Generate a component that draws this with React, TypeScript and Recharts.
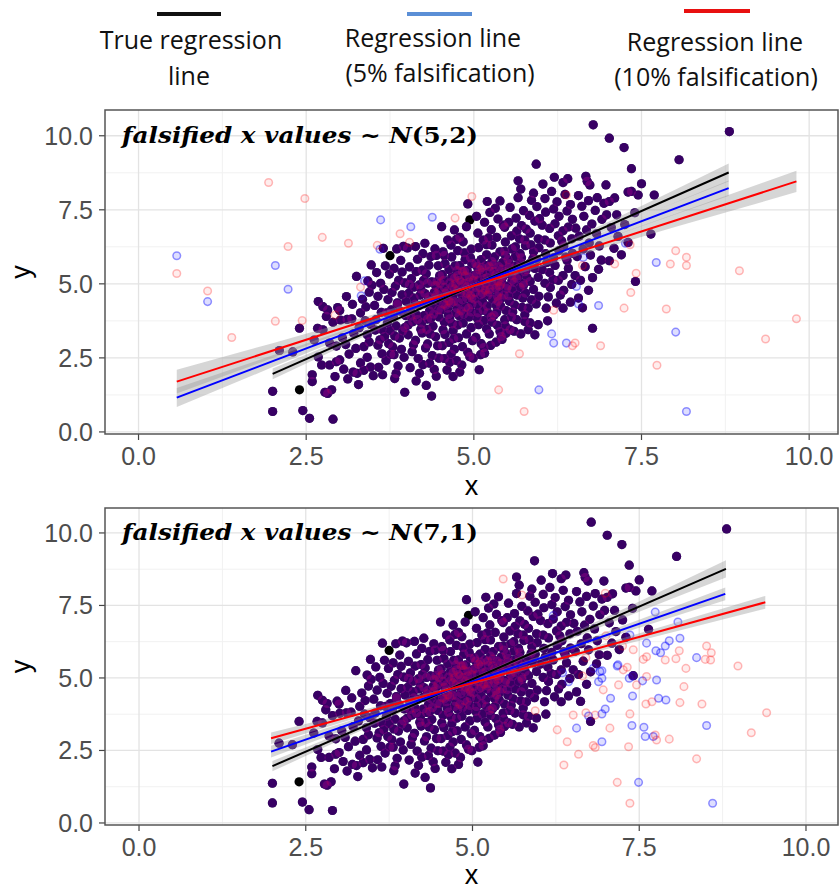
import React from 'react';
import { ComposedChart, Scatter, Line, Area, XAxis, YAxis, CartesianGrid, ReferenceArea } from 'recharts';

// ---------- axes ----------
const xTicks = [0, 2.5, 5, 7.5, 10];
const yTicks = [0, 2.5, 5, 7.5, 10];
const xMinor = [1.25, 3.75, 6.25, 8.75];
const yMinor = [1.25, 3.75, 6.25, 8.75];
const p1XDomain: [number, number] = [-0.5, 10.43];
const p2XDomain: [number, number] = [-0.51, 10.48];
const p1YDomain: [number, number] = [-0.07, 10.87];
const p2YDomain: [number, number] = [-0.07, 10.86];

// ---------- true (unfalsified) observations, shared by both panels ----------
const truePoints: [number, number][] = [
  [2.0, 0.69], [2.0, 1.37], [2.1, 2.75], [2.45, 0.72], [2.3, 2.7], [2.4, 3.5],
  [2.55, 0.46], [2.59, 1.7], [2.59, 1.93], [2.9, 0.43], [2.78, 1.34], [2.88, 1.42], [2.67, 3.5], [2.75, 3.45],
  [2.68, 4.4], [2.75, 4.23], [2.82, 4.12], [2.97, 4.2], [2.73, 2.26], [2.85, 2.26], [2.95, 2.37], [2.68, 2.53],
  [2.82, 1.3], [2.93, 1.87], [2.62, 3.1], [2.85, 3.0], [2.95, 2.9], [2.8, 3.9], [2.9, 3.7],
  [3.0, 4.1], [3.1, 4.57], [3.01, 3.78], [3.11, 3.8], [3.18, 3.82], [3.25, 5.25], [3.47, 5.64], [3.0, 2.43],
  [3.12, 1.79], [3.2, 2.02], [3.06, 2.12], [3.26, 1.98], [3.31, 2.33], [3.36, 2.08], [3.41, 2.52], [3.46, 2.19],
  [3.14, 2.63], [3.24, 2.82], [3.36, 2.88], [3.44, 3.04], [3.04, 3.18], [3.21, 3.32], [3.29, 3.52], [3.41, 3.28],
  [3.46, 3.63], [3.31, 4.02], [3.39, 4.22], [3.44, 4.72], [3.34, 4.48], [3.19, 4.31], [3.5, 1.9], [3.09, 2.95],
  [3.38, 3.75], [3.48, 4.95], [3.42, 5.1], [3.28, 1.6],
  [3.52, 4.27], [3.57, 2.93], [3.61, 5.02], [3.63, 3.46], [3.66, 4.81], [3.69, 2.41], [3.71, 3.68], [3.74, 5.33],
  [3.77, 4.12], [3.79, 2.87], [3.81, 5.52], [3.84, 3.58], [3.86, 4.36], [3.89, 3.17], [3.91, 5.79], [3.93, 4.63],
  [3.96, 2.52], [3.98, 3.93], [3.54, 3.79], [3.58, 2.18], [3.62, 4.04], [3.64, 1.93], [3.67, 3.22], [3.72, 4.47],
  [3.76, 2.62], [3.8, 3.89], [3.83, 4.92], [3.87, 2.23], [3.9, 4.08], [3.94, 3.41], [3.97, 5.03], [3.55, 5.38],
  [3.6, 3.11], [3.68, 5.61], [3.73, 2.98], [3.78, 4.71], [3.82, 3.24], [3.88, 5.12], [3.92, 2.79], [3.95, 6.27],
  [3.85, 6.18], [3.57, 4.58], [3.7, 4.02], [3.75, 3.42], [3.84, 1.97], [3.99, 4.41], [3.63, 2.64], [3.86, 4.31],
  [3.93, 5.4], [3.53, 3.44], [3.81, 2.61], [3.97, 3.52], [3.65, 6.2], [3.82, 1.8], [3.97, 1.34],
  [4.01, 6.21], [4.13, 6.26], [4.27, 6.37], [4.42, 6.18], [4.04, 5.57], [4.16, 5.83], [4.23, 5.46], [4.36, 5.92],
  [4.47, 5.61], [4.07, 5.18], [4.19, 4.97], [4.29, 5.34], [4.37, 5.07], [4.49, 5.27], [4.03, 4.68], [4.11, 4.52],
  [4.21, 4.83], [4.33, 4.57], [4.43, 4.94], [4.06, 4.17], [4.14, 3.96], [4.26, 4.33], [4.34, 4.08], [4.46, 4.42],
  [4.09, 3.72], [4.21, 3.47], [4.31, 3.81], [4.39, 3.57], [4.48, 3.88], [4.02, 3.28], [4.13, 3.09], [4.23, 3.34],
  [4.31, 2.97], [4.43, 3.21], [4.08, 2.71], [4.17, 2.48], [4.28, 2.83], [4.38, 2.58], [4.46, 2.91], [4.05, 2.17],
  [4.19, 1.98], [4.34, 2.32], [4.44, 1.88], [4.37, 1.21], [4.14, 1.72], [4.29, 1.57], [4.11, 4.89], [4.2, 4.62],
  [4.31, 5.02], [4.41, 4.71], [4.06, 3.91], [4.16, 3.79], [4.26, 3.93], [4.36, 3.84], [4.47, 4.12], [4.14, 5.41],
  [4.33, 5.63], [4.24, 6.02], [4.44, 5.96], [4.04, 4.98], [4.24, 2.27], [4.41, 2.11], [4.48, 2.49], [4.1, 2.94],
  [4.3, 3.46], [4.42, 4.53], [4.02, 3.61], [4.18, 4.27], [4.27, 4.67], [4.38, 4.28], [4.45, 5.08], [4.22, 3.68],
  [4.35, 3.31], [4.12, 4.31], [4.4, 3.98], [4.32, 4.45], [4.25, 5.12],
  [4.52, 6.93], [4.91, 7.7], [4.69, 1.87], [4.61, 6.48], [4.71, 6.82], [4.79, 6.57], [4.89, 6.93], [4.54, 6.08],
  [4.66, 6.31], [4.76, 6.12], [4.84, 6.42], [4.96, 6.17], [4.57, 5.68], [4.67, 5.91], [4.79, 5.62], [4.87, 5.82],
  [4.97, 5.68], [4.53, 5.31], [4.63, 5.48], [4.71, 5.19], [4.83, 5.42], [4.93, 5.23], [4.56, 4.88], [4.64, 5.03],
  [4.76, 4.79], [4.86, 5.01], [4.94, 4.82], [4.59, 4.52], [4.69, 4.61], [4.77, 4.38], [4.89, 4.53], [4.97, 4.31],
  [4.51, 4.12], [4.61, 4.18], [4.73, 4.02], [4.81, 4.09], [4.93, 3.88], [4.56, 3.71], [4.64, 3.82], [4.76, 3.61],
  [4.84, 3.68], [4.96, 3.52], [4.57, 3.29], [4.69, 3.42], [4.77, 3.18], [4.89, 3.31], [4.98, 3.08], [4.53, 2.91],
  [4.63, 3.02], [4.71, 2.79], [4.83, 2.88], [4.91, 2.69], [4.56, 2.48], [4.66, 2.62], [4.74, 2.41], [4.82, 2.26],
  [4.94, 2.54], [4.6, 2.09], [4.79, 2.02], [4.99, 2.49], [4.56, 5.95], [4.66, 4.35], [4.76, 5.28], [4.86, 6.05],
  [4.96, 4.05], [4.6, 4.75], [4.7, 3.15], [4.8, 4.7], [4.9, 5.45], [4.54, 3.45], [4.74, 6.5], [4.64, 2.35],
  [4.58, 4.28], [4.68, 4.92], [4.72, 5.61], [4.83, 4.46], [4.87, 5.27], [4.95, 4.61], [4.62, 3.96], [4.78, 3.92],
  [4.92, 4.18], [4.99, 5.12], [4.7, 4.4], [4.85, 3.98], [4.55, 5.12], [4.81, 5.06], [4.9, 4.9], [4.75, 5.45],
  [4.68, 3.65], [4.95, 5.88],
  [5.08, 2.1], [5.16, 2.66], [5.33, 3.03], [5.2, 7.78], [5.39, 7.8], [5.04, 7.28], [5.16, 7.08], [5.24, 7.41],
  [5.36, 7.19], [5.44, 6.98], [5.06, 6.71], [5.14, 6.48], [5.26, 6.83], [5.34, 6.57], [5.46, 6.91], [5.07, 6.22],
  [5.19, 5.98], [5.27, 6.31], [5.39, 6.08], [5.47, 6.41], [5.03, 5.69], [5.11, 5.82], [5.23, 5.58], [5.31, 5.91],
  [5.43, 5.72], [5.04, 5.32], [5.16, 5.18], [5.24, 5.43], [5.36, 5.09], [5.44, 5.28], [5.09, 4.88], [5.17, 4.79],
  [5.29, 4.96], [5.37, 4.71], [5.49, 4.84], [5.01, 4.48], [5.13, 4.39], [5.21, 4.62], [5.33, 4.29], [5.41, 4.52],
  [5.06, 4.02], [5.14, 4.11], [5.26, 3.88], [5.34, 4.03], [5.46, 3.79], [5.07, 3.62], [5.19, 3.48], [5.27, 3.71],
  [5.39, 3.39], [5.47, 3.58], [5.03, 3.19], [5.11, 2.98], [5.23, 3.31], [5.42, 3.12], [5.1, 2.61], [5.25, 2.92],
  [5.41, 3.22], [5.48, 3.33], [5.12, 5.55], [5.3, 5.65], [5.46, 6.1], [5.2, 4.25], [5.4, 4.25], [5.05, 3.85],
  [5.35, 3.6], [5.22, 6.55], [5.42, 5.5], [5.15, 2.85], [5.32, 7.55], [5.48, 4.1], [5.02, 4.71], [5.18, 5.02],
  [5.28, 4.48], [5.38, 4.92], [5.45, 4.62], [5.09, 5.47], [5.21, 4.02], [5.33, 5.31], [5.13, 4.68], [5.27, 5.75],
  [5.06, 4.28], [5.41, 5.08], [5.24, 4.81], [5.15, 3.76], [5.36, 4.41], [5.19, 6.32], [5.3, 3.94], [5.47, 5.96],
  [5.66, 8.48], [5.93, 9.04], [5.54, 7.58], [5.66, 7.91], [5.74, 7.47], [5.86, 7.82], [5.94, 7.61], [5.52, 7.08],
  [5.63, 7.22], [5.71, 6.97], [5.83, 7.31], [5.91, 7.12], [5.56, 6.62], [5.64, 6.78], [5.76, 6.48], [5.84, 6.71],
  [5.96, 6.52], [5.57, 6.18], [5.69, 6.02], [5.77, 6.29], [5.89, 6.08], [5.97, 6.22], [5.51, 5.82], [5.63, 5.61],
  [5.71, 5.88], [5.83, 5.68], [5.91, 5.52], [5.56, 5.28], [5.64, 5.19], [5.76, 5.41], [5.84, 5.08], [5.96, 5.22],
  [5.57, 4.82], [5.69, 4.88], [5.77, 4.69], [5.89, 4.81], [5.97, 4.58], [5.53, 4.41], [5.61, 4.28], [5.73, 4.52],
  [5.81, 4.18], [5.93, 4.32], [5.56, 3.88], [5.64, 3.79], [5.76, 3.96], [5.84, 3.68], [5.96, 3.62], [5.6, 3.4],
  [5.7, 3.31], [5.81, 3.45], [5.91, 3.28], [5.54, 3.45], [5.76, 3.73], [5.89, 8.06], [5.7, 8.2], [5.58, 4.05],
  [5.78, 6.85], [5.88, 5.85], [5.68, 5.55], [5.98, 7.2], [5.6, 5.05], [5.72, 4.21], [5.86, 4.46], [5.62, 5.92],
  [5.79, 5.22], [5.94, 5.82], [5.53, 5.55], [5.68, 6.52], [5.85, 6.32], [5.74, 4.95],
  [6.03, 8.37], [6.33, 8.42], [6.08, 4.18], [6.33, 4.18], [6.06, 7.88], [6.16, 8.12], [6.24, 7.77], [6.36, 8.02],
  [6.44, 7.68], [6.07, 7.42], [6.19, 7.53], [6.27, 7.28], [6.39, 7.46], [6.47, 7.18], [6.02, 6.98], [6.13, 6.87],
  [6.21, 7.03], [6.33, 6.79], [6.41, 6.92], [6.06, 6.48], [6.14, 6.38], [6.26, 6.62], [6.34, 6.28], [6.46, 6.52],
  [6.07, 6.02], [6.19, 5.88], [6.27, 6.12], [6.39, 5.79], [6.47, 6.03], [6.02, 5.48], [6.13, 5.38], [6.21, 5.62],
  [6.33, 5.28], [6.41, 5.52], [6.06, 5.02], [6.14, 4.88], [6.26, 5.12], [6.34, 4.78], [6.46, 4.98], [6.11, 4.56],
  [6.29, 4.62], [6.44, 4.38], [6.2, 8.6], [6.4, 8.55], [6.1, 3.75], [6.23, 4.35], [6.18, 5.15], [6.37, 5.9],
  [6.09, 5.72], [6.31, 6.45],
  [6.67, 8.63], [6.69, 8.46], [6.73, 8.34], [6.97, 8.34], [6.98, 7.33], [6.77, 5.21], [6.77, 3.5], [6.9, 5.8],
  [6.78, 10.37], [6.56, 7.98], [6.61, 7.62], [6.64, 7.28], [6.71, 7.81], [6.76, 7.02], [6.81, 7.48], [6.84, 7.91],
  [6.91, 7.18], [6.94, 7.72], [6.52, 6.88], [6.57, 6.61], [6.63, 6.18], [6.68, 6.82], [6.72, 6.38], [6.83, 6.69],
  [6.87, 6.28], [6.54, 5.92], [6.66, 5.58], [6.74, 5.97], [6.86, 5.49], [6.51, 5.28], [6.59, 5.12], [6.71, 4.78],
  [6.56, 4.52], [6.62, 4.19],
  [7.02, 9.92], [7.24, 9.6], [7.35, 8.89], [7.35, 8.12], [7.45, 8.0], [7.3, 8.1], [7.1, 7.9], [7.02, 7.78],
  [7.13, 7.33], [7.09, 6.2], [7.2, 5.98], [7.02, 5.78], [7.41, 5.08], [7.05, 6.9], [7.15, 6.6], [7.25, 7.0],
  [7.3, 6.4], [7.4, 7.4],
  [7.5, 8.38], [7.69, 8.0], [7.64, 6.68], [8.06, 9.19], [8.81, 10.14],
  // dense core along the diagonal
  [4.45, 4.65], [4.5, 5.02], [4.58, 4.68], [4.63, 4.42], [4.67, 5.22], [4.71, 4.83], [4.75, 4.18], [4.79, 5.12],
  [4.83, 4.78], [4.86, 5.43], [4.9, 4.68], [4.93, 5.06], [4.97, 4.52], [5.0, 5.28], [5.03, 4.88], [5.07, 5.12],
  [5.1, 4.63], [5.13, 5.38], [5.16, 4.95], [5.2, 5.21], [5.23, 4.72], [5.27, 5.08], [5.3, 5.42], [5.33, 4.86],
  [5.37, 5.58], [5.4, 4.98], [5.43, 5.23], [5.47, 5.41], [5.5, 4.92], [5.53, 5.68], [5.57, 5.12], [5.6, 5.42],
  [5.64, 4.62], [5.67, 5.28], [5.7, 5.72], [5.74, 5.02], [5.78, 5.48], [4.55, 4.32], [4.88, 4.22], [5.18, 5.62],
  [5.35, 4.58], [5.05, 5.58], [4.73, 5.0], [5.52, 4.6], [5.62, 6.25], [4.48, 4.78],
];
// true observations whose copies were falsified in both contaminated data sets (drawn pure black)
const blackOnlyPoints: [number, number][] = [[2.4, 1.42], [3.75, 5.95], [4.94, 7.16]];

// ---------- falsified observations, panel 1: x ~ N(5,2) ----------
const p1Blue: [number, number][] = [
  [0.57, 5.95], [1.03, 4.4], [2.04, 5.62], [2.23, 4.82], [3.61, 7.16], [4.06, 6.93], [4.38, 7.25], [3.32, 4.6],
  [3.37, 5.1], [3.6, 6.17], [7.26, 6.37], [7.72, 5.72], [6.56, 4.32], [6.86, 4.27], [6.16, 3.31], [6.19, 3.0],
  [6.38, 3.0], [8.01, 3.37], [5.97, 1.42], [8.17, 0.69], [6.63, 5.89], [6.53, 4.91],
];
const p1Pink: [number, number][] = [
  [0.57, 5.35], [1.03, 4.76], [1.39, 3.19], [1.94, 8.42], [2.48, 7.88], [2.23, 6.26], [2.74, 6.57], [2.04, 3.74],
  [2.44, 3.76], [3.13, 6.37], [3.56, 6.3], [2.93, 3.95], [3.31, 4.89], [3.9, 6.69], [4.04, 6.4], [4.97, 7.95],
  [4.72, 7.22], [6.38, 8.0], [7.33, 6.32], [8.01, 6.12], [8.17, 5.9], [8.17, 5.62], [7.93, 5.67], [8.96, 5.44],
  [7.42, 5.36], [7.34, 4.71], [7.24, 4.18], [7.87, 4.15], [6.19, 4.11], [9.81, 3.82], [9.35, 3.14], [6.51, 3.0],
  [6.89, 2.91], [5.68, 2.64], [7.73, 2.25], [5.37, 1.42], [5.75, 0.69], [7.1, 5.67], [6.62, 5.62], [6.47, 2.91],
];

// ---------- falsified observations, panel 2: x ~ N(7,1) ----------
const p2Blue: [number, number][] = [
  [7.74, 7.27], [8.08, 6.93], [7.36, 6.48], [7.61, 6.2], [7.75, 5.94], [7.82, 5.87], [7.89, 6.1], [7.95, 6.28],
  [8.11, 6.37], [8.36, 5.7], [7.17, 5.41], [6.94, 5.25], [6.94, 4.99], [6.89, 4.87], [6.81, 5.33], [7.35, 4.99],
  [7.4, 5.07], [7.55, 4.9], [7.76, 4.93], [7.4, 4.38], [7.07, 4.3], [7.79, 4.3], [7.9, 4.24], [6.99, 3.93],
  [6.94, 3.76], [6.74, 3.69], [6.56, 3.27], [7.39, 3.36], [7.57, 3.3], [7.59, 2.98], [7.71, 2.98], [8.51, 3.36],
  [6.94, 2.8], [7.49, 1.4], [8.6, 0.68], [6.35, 5.18], [6.44, 4.87], [6.91, 5.22], [6.21, 7.15], [7.18, 5.45],
];
const p2Pink: [number, number][] = [
  [6.99, 7.92], [7.41, 5.97], [7.56, 5.64], [7.61, 5.73], [7.89, 5.62], [8.05, 5.66], [8.1, 5.94], [8.51, 6.1],
  [8.58, 5.87], [8.49, 5.64], [8.57, 5.62], [8.98, 5.41], [8.2, 5.33], [7.32, 5.37], [7.26, 5.28], [6.65, 5.07],
  [7.61, 5.05], [7.46, 4.76], [7.19, 4.76], [8.17, 4.7], [6.96, 4.59], [7.6, 4.1], [7.69, 4.18], [8.11, 4.15],
  [8.44, 4.1], [7.36, 3.76], [6.51, 3.72], [6.84, 3.72], [6.27, 3.21], [7.06, 3.27], [7.74, 3.03], [7.76, 2.86],
  [7.95, 2.89], [6.42, 2.8], [6.81, 2.67], [6.84, 2.6], [7.34, 2.63], [6.59, 2.37], [6.37, 2.0], [8.36, 2.21],
  [7.17, 1.4], [7.36, 0.68], [9.18, 3.11], [9.41, 3.8], [5.46, 8.41], [5.74, 7.86], [5.94, 3.87], [6.7, 3.8],
  [7.0, 6.45], [7.25, 6.1], [6.7, 5.7],
];

// ---------- fitted regression lines (end points) ----------
const trueLine: [number, number][] = [[2.0, 1.96], [8.8, 8.76]];
const p1BlueLine: [number, number][] = [[0.57, 1.16], [8.8, 8.23]];
const p1RedLine: [number, number][] = [[0.57, 1.7], [9.81, 8.46]];
const p2BlueLine: [number, number][] = [[1.98, 2.46], [8.79, 7.9]];
const p2RedLine: [number, number][] = [[1.98, 2.92], [9.39, 7.61]];

// ---------- confidence band half-widths ----------
const trueBandX = [2.0, 3.0, 4.0, 5.0, 6.0, 7.0, 8.0, 8.8];
const trueBandHW = [0.18, 0.12, 0.07, 0.05, 0.07, 0.13, 0.22, 0.3];
const p1BlueBandX = [0.57, 2.0, 3.5, 5.0, 6.5, 8.0, 8.8];
const p1BlueBandHW = [0.32, 0.2, 0.1, 0.05, 0.1, 0.2, 0.26];
const p1RedBandX = [0.57, 2.0, 3.5, 5.0, 6.5, 8.0, 9.81];
const p1RedBandHW = [0.4, 0.25, 0.12, 0.06, 0.12, 0.22, 0.36];
const p2BlueBandX = [1.98, 3.5, 5.0, 6.5, 8.0, 8.79];
const p2BlueBandHW = [0.2, 0.1, 0.05, 0.08, 0.17, 0.22];
const p2RedBandX = [1.98, 3.5, 5.0, 6.5, 8.0, 9.39];
const p2RedBandHW = [0.2, 0.1, 0.05, 0.08, 0.15, 0.22];

const toObj = (pts: [number, number][]) => pts.map(([x, y]) => ({ x, y }));
const lineAt = (line: [number, number][], x: number) => {
  const [[x0, y0], [x1, y1]] = line;
  return y0 + ((y1 - y0) * (x - x0)) / (x1 - x0);
};
const makeBand = (line: [number, number][], xs: number[], hw: number[]) =>
  xs.map((x, i) => {
    const y = lineAt(line, x);
    return { x, band: [y - hw[i], y + hw[i]] };
  });

const fmt = (v: number) => v.toFixed(1);
const tickFont = '"Liberation Sans", Arial, sans-serif';

const dot = (r: number, fill: string, stroke = 'none', sw = 0) => (p: any) => (
  <circle cx={p.cx} cy={p.cy} r={r} fill={fill} stroke={stroke} strokeWidth={sw} />
);

const darkBlack = dot(4.6, '#000000');
const darkBlue = dot(4.6, 'rgba(0,0,255,0.5)');
const darkRed = dot(4.6, 'rgba(255,0,0,0.22)');
const ringBlue = dot(3.8, 'rgba(0,0,255,0.13)', 'rgba(0,0,255,0.42)', 1.5);
const ringPink = dot(3.8, 'rgba(255,0,0,0.07)', 'rgba(255,0,0,0.27)', 1.5);

type PanelProps = {
  top: number;
  height: number;
  marginTop: number;
  xAxisHeight: number;
  xDomain: [number, number];
  yDomain: [number, number];
  blue: [number, number][];
  pink: [number, number][];
  blueLine: [number, number][];
  redLine: [number, number][];
  blueBand: { x: number; band: number[] }[];
  redBand: { x: number; band: number[] }[];
};

function Panel(props: PanelProps) {
  const { top, height, marginTop, xAxisHeight, xDomain, yDomain, blue, pink, blueLine, redLine, blueBand, redBand } = props;
  const dark = toObj(truePoints);
  const blackOnly = toObj(blackOnlyPoints);
  const trueBand = makeBand(trueLine, trueBandX, trueBandHW);
  return (
    <div style={{ position: 'absolute', left: 0, top }}>
      <ComposedChart width={840} height={height} margin={{ top: marginTop, right: 2, bottom: 0, left: 0 }}>
        <CartesianGrid verticalValues={xMinor} horizontalValues={yMinor} stroke="#f1f1f1" strokeWidth={1} fill="none" />
        <CartesianGrid verticalValues={xTicks} horizontalValues={yTicks} stroke="#e3e3e3" strokeWidth={1.3} fill="none" />
        <XAxis
          type="number"
          dataKey="x"
          domain={xDomain}
          ticks={xTicks}
          allowDataOverflow
          interval={0}
          tickFormatter={fmt}
          height={xAxisHeight}
          tickSize={6}
          tickMargin={7}
          axisLine={false}
          tickLine={{ stroke: '#444', strokeWidth: 1.2 }}
          tick={{ fill: '#4d4d4d', fontSize: 25, fontFamily: tickFont }}
        />
        <YAxis
          type="number"
          dataKey="y"
          domain={yDomain}
          ticks={yTicks}
          allowDataOverflow
          interval={0}
          tickFormatter={fmt}
          width={105}
          tickSize={6}
          tickMargin={6}
          axisLine={false}
          tickLine={{ stroke: '#444', strokeWidth: 1.2 }}
          tick={{ fill: '#4d4d4d', fontSize: 25, fontFamily: tickFont }}
        />
        <Scatter data={dark} shape={darkBlack} isAnimationActive={false} zIndex={300} />
        <Scatter data={blackOnly} shape={darkBlack} isAnimationActive={false} zIndex={300} />
        <Scatter data={dark} shape={darkBlue} isAnimationActive={false} zIndex={300} />
        <Scatter data={toObj(blue)} shape={ringBlue} isAnimationActive={false} zIndex={300} />
        <Scatter data={dark} shape={darkRed} isAnimationActive={false} zIndex={300} />
        <Scatter data={toObj(pink)} shape={ringPink} isAnimationActive={false} zIndex={300} />
        <Area data={trueBand} dataKey="band" type="linear" stroke="none" fill="#999999" fillOpacity={0.4} isAnimationActive={false} dot={false} activeDot={false} zIndex={400} />
        <Area data={blueBand} dataKey="band" type="linear" stroke="none" fill="#999999" fillOpacity={0.4} isAnimationActive={false} dot={false} activeDot={false} zIndex={400} />
        <Area data={redBand} dataKey="band" type="linear" stroke="none" fill="#999999" fillOpacity={0.4} isAnimationActive={false} dot={false} activeDot={false} zIndex={400} />
        <Line data={toObj(trueLine)} dataKey="y" type="linear" stroke="#000000" strokeWidth={2} dot={false} activeDot={false} isAnimationActive={false} zIndex={500} />
        <Line data={toObj(blueLine)} dataKey="y" type="linear" stroke="#0000ff" strokeWidth={2} dot={false} activeDot={false} isAnimationActive={false} zIndex={500} />
        <Line data={toObj(redLine)} dataKey="y" type="linear" stroke="#ff0000" strokeWidth={2} dot={false} activeDot={false} isAnimationActive={false} zIndex={500} />
        <ReferenceArea
          x1={xDomain[0]}
          x2={xDomain[1]}
          y1={yDomain[0]}
          y2={yDomain[1]}
          fill="none"
          fillOpacity={0}
          stroke="#555555"
          strokeWidth={1.5}
          ifOverflow="visible"
          zIndex={600}
        />
      </ComposedChart>
    </div>
  );
}

const legendFont = '"Open Sans", "Noto Sans", sans-serif';
const titleFont = '"DejaVu Serif", "Liberation Serif", serif';

export default function App() {
  return (
    <div style={{ position: 'absolute', left: 0, top: 0, width: 840, height: 890, background: '#ffffff', overflow: 'hidden' }}>
      <Panel
        top={100}
        height={400}
        marginTop={10}
        xAxisHeight={66}
        xDomain={p1XDomain}
        yDomain={p1YDomain}
        blue={p1Blue}
        pink={p1Pink}
        blueLine={p1BlueLine}
        redLine={p1RedLine}
        blueBand={makeBand(p1BlueLine, p1BlueBandX, p1BlueBandHW)}
        redBand={makeBand(p1RedLine, p1RedBandX, p1RedBandHW)}
      />
      <Panel
        top={500}
        height={390}
        marginTop={8}
        xAxisHeight={65}
        xDomain={p2XDomain}
        yDomain={p2YDomain}
        blue={p2Blue}
        pink={p2Pink}
        blueLine={p2BlueLine}
        redLine={p2RedLine}
        blueBand={makeBand(p2BlueLine, p2BlueBandX, p2BlueBandHW)}
        redBand={makeBand(p2RedLine, p2RedBandX, p2RedBandHW)}
      />
      <svg width={840} height={890} style={{ position: 'absolute', left: 0, top: 0, pointerEvents: 'none' }}>
        {/* legend */}
        <line x1={157} x2={221} y1={14} y2={14} stroke="#111111" strokeWidth={4} />
        <line x1={407} x2={472} y1={14} y2={14} stroke="#5b8fd6" strokeWidth={4} />
        <line x1={684} x2={750} y1={11} y2={11} stroke="#e81010" strokeWidth={4} />
        <g fontFamily={legendFont} fontSize={25} fill="#111111" textAnchor="middle">
          <text x={191} y={49}>True regression</text>
          <text x={189} y={85}>line</text>
          <text x={433} y={47}>Regression line</text>
          <text x={440} y={82}>(5% falsification)</text>
          <text x={715} y={51}>Regression line</text>
          <text x={716} y={86}>(10% falsification)</text>
        </g>
        {/* panel titles */}
        <text x={122} y={143} fontFamily={titleFont} fontWeight="bold" fontStyle="italic" fontSize={22} textLength={356} lengthAdjust="spacingAndGlyphs" fill="#000">
          falsified x values ~ N<tspan fontStyle="normal">(5,2)</tspan>
        </text>
        <text x={122} y={540} fontFamily={titleFont} fontWeight="bold" fontStyle="italic" fontSize={22} textLength={356} lengthAdjust="spacingAndGlyphs" fill="#000">
          falsified x values ~ N<tspan fontStyle="normal">(7,1)</tspan>
        </text>
        {/* axis titles */}
        <g fontFamily={tickFont} fontSize={27} fill="#000" textAnchor="middle">
          <text x={471.5} y={495}>x</text>
          <text x={471.5} y={884}>x</text>
          <g transform="translate(30 272) rotate(-90)">
            <text x={0} y={0}>y</text>
          </g>
          <g transform="translate(30 666.5) rotate(-90)">
            <text x={0} y={0}>y</text>
          </g>
        </g>
      </svg>
    </div>
  );
}
